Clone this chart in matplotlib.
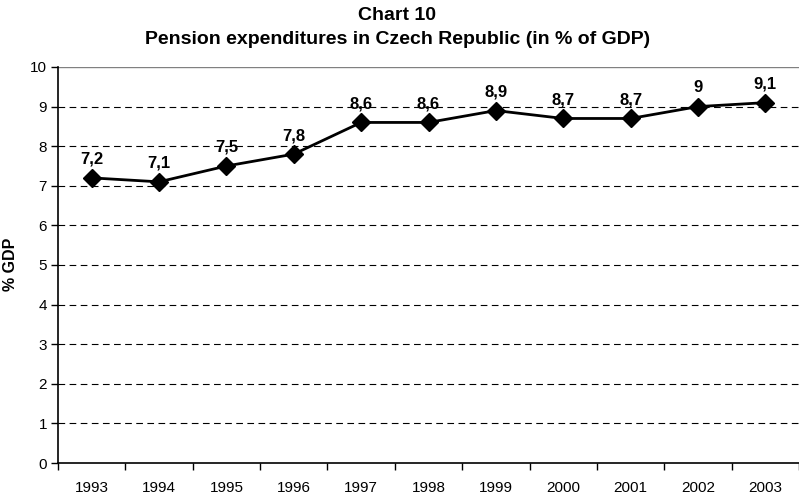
import matplotlib
matplotlib.use("Agg")
import matplotlib.pyplot as plt

years = ["1993", "1994", "1995", "1996", "1997", "1998", "1999", "2000", "2001", "2002", "2003"]
values = [7.2, 7.1, 7.5, 7.8, 8.6, 8.6, 8.9, 8.7, 8.7, 9.0, 9.1]
labels = ["7,2", "7,1", "7,5", "7,8", "8,6", "8,6", "8,9", "8,7", "8,7", "9", "9,1"]
yticks = list(range(0, 11))

plt.rcParams['font.family'] = ['Liberation Sans', 'DejaVu Sans']

W, H = 799, 498
fig = plt.figure(figsize=(W / 100, H / 100), dpi=100)
ax = fig.add_axes([58 / W, 1 - 463 / H, (799 - 58) / W, (463 - 67) / H])

x = list(range(len(years)))
for yv in yticks[1:-1]:
    ax.axhline(yv, color='black', lw=0.8, ls=(0, (6, 4)), zorder=1)
ax.axhline(10, color='#808080', lw=1.0, zorder=1)

ax.plot(x, values, color='black', lw=2, marker='D', markersize=9.5, zorder=3)
for xi, v, lab in zip(x, values, labels):
    ax.annotate(lab, (xi, v), xytext=(0, 8), textcoords='offset points',
                ha='center', va='bottom', fontsize=12, fontweight='bold')

ax.set_xlim(-0.5, len(years) - 0.5)
ax.set_ylim(0, 10)
ax.set_yticks(yticks)
ax.set_yticklabels([str(t) for t in yticks], fontsize=11)
ax.set_xticks(x)
ax.set_xticklabels(years, fontsize=11)
ax.set_xticks([i - 0.5 for i in range(len(years) + 1)], minor=True)
ax.tick_params(axis='x', which='major', length=0, pad=13)
ax.tick_params(axis='x', which='minor', length=5, direction='out', width=1)
ax.tick_params(axis='y', length=5, direction='out', width=1, pad=3)
for s in ['top', 'right']:
    ax.spines[s].set_visible(False)
ax.spines['left'].set_linewidth(1.2)
ax.spines['bottom'].set_linewidth(1.2)

ax.set_ylabel("% GDP", fontsize=11.5, fontweight='bold')
ax.yaxis.set_label_coords((18 - 58) / 741, (463 - 264) / 396)

fig.text(0.497, 1 - 15 / H, "Chart 10", ha='center', va='center', fontsize=14, fontweight='bold')
fig.text(0.497, 1 - 40 / H, "Pension expenditures in Czech Republic (in % of GDP)",
         ha='center', va='center', fontsize=14, fontweight='bold')

fig.savefig("out.png", dpi=100)
